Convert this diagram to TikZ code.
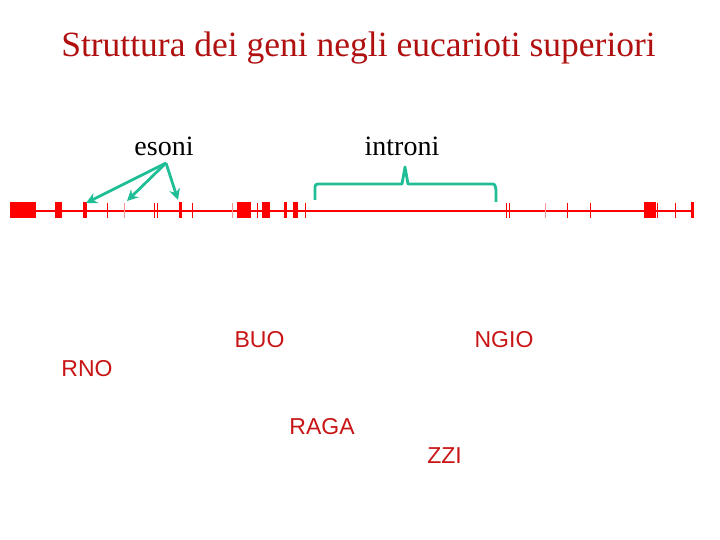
\documentclass[tikz,border=0pt]{standalone}
\usepackage{fontspec}
\setmainfont{Liberation Serif}
\setsansfont{Liberation Sans}
\usetikzlibrary{arrows.meta}
\definecolor{titlered}{RGB}{176,16,16}
\definecolor{genered}{RGB}{255,0,0}
\definecolor{lightred}{RGB}{245,150,150}
\definecolor{labred}{RGB}{200,20,20}
\definecolor{teal}{RGB}{32,190,150}
\begin{document}
\begin{tikzpicture}[x=1pt,y=-1pt,
  exon/.style={fill=genered,draw=none},
  thin/.style={draw=genered,line width=1pt},
  faint/.style={draw=lightred,line width=1pt},
  lab/.style={inner sep=0pt,anchor=base,font=\fontsize{28}{31}\selectfont},
  piece/.style={inner sep=0pt,anchor=base,text=labred,font=\sffamily\fontsize{23}{27}\selectfont},
  pointer/.style={draw=teal,line width=2.8pt,-{Stealth[length=11pt,width=11pt]}},
  brace/.style={draw=teal,line width=2.8pt,line join=round}]
\useasboundingbox (0,0) rectangle (720,540);
% title
\node[inner sep=0pt,anchor=base,text=titlered,font=\fontsize{35.5}{40}\selectfont] (title) at (358.5,57) {Struttura dei geni negli eucarioti superiori};
% gene line
\draw[draw=genered,line width=1.6pt] (10,211) -- (692,211);
% exons (boxes and bars)
\fill[exon] (10,202) rectangle (36,218);
\fill[exon] (55,202) rectangle (62,218);
\fill[exon] (83,202) rectangle (86.5,218);
\fill[exon] (178.5,202) rectangle (181.5,218);
\fill[exon] (237,202) rectangle (251,218);
\fill[exon] (262,202) rectangle (269.5,218);
\fill[exon] (284,202) rectangle (287,218);
\fill[exon] (293,202) rectangle (298,218);
\fill[exon] (644,202) rectangle (656,218);
\fill[exon] (690.5,202) rectangle (693.5,218);
% thin marks
\foreach \x in {107,154,157,192,257,305,506,509,567,590,657.5,675}
  \draw[thin] (\x,203) -- (\x,218);
\foreach \x in {124,232,545}
  \draw[faint] (\x,203) -- (\x,218);
% labels
\node[lab] (esoni) at (164,156) {esoni};
\node[lab] (introni) at (402,156) {introni};
\coordinate (src) at (166,163);
\coordinate (t1) at (86,203);
\coordinate (t2) at (127,201);
\coordinate (t3) at (178,200);
\draw[pointer] (src) -- (t1);
\draw[pointer] (src) -- (t2);
\draw[pointer] (src) -- (t3);
% bracket
\coordinate (bl) at (315,200);
\coordinate (br) at (496,202);
\coordinate (bm) at (405,167);
\draw[brace] (bl) -- (315,190) .. controls (315,184) .. (321,184) -- (402,184) -- (bm) -- (408,184) -- (490,184) .. controls (495,184) .. (496,190) -- (br);
% pieces
\node[piece] (buo) at (259.5,347) {BUO};
\node[piece] (ngio) at (504,347) {NGIO};
\node[piece] (rno) at (87,376) {RNO};
\node[piece] (raga) at (322,434) {RAGA};
\node[piece] (zzi) at (444.5,463) {ZZI};
\end{tikzpicture}
\end{document}
